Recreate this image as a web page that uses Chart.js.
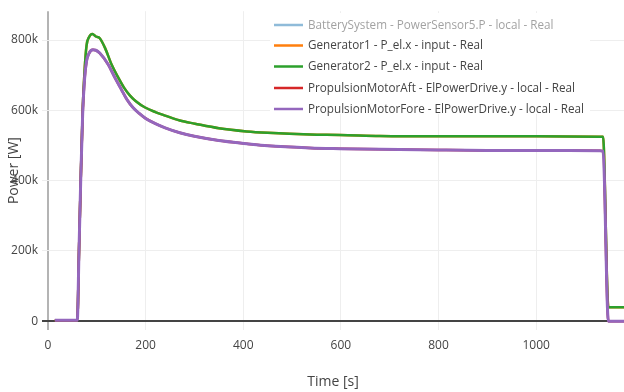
<!DOCTYPE html>
<html>
<head>
<meta charset="utf-8">
<script src="https://cdn.jsdelivr.net/npm/chart.js@4/dist/chart.umd.min.js"></script>
<style>
html,body{margin:0;padding:0;background:#fff;}
#wrap{width:624px;height:392px;}
</style>
</head>
<body>
<div id="wrap"><canvas id="c" width="624" height="392"></canvas></div>
<script>
// ---- data (time in s, power in W) ----
const genTime = [14, 60, 63.5, 67, 71, 75, 79, 84, 91, 98, 106, 117, 130, 144, 156, 168, 180, 199, 220, 240, 270, 301, 350, 407, 450, 537, 598, 680, 800, 900, 1000, 1131, 1137, 1148, 1180];
const genPower = [3000, 3000, 200000, 400000, 600000, 715000, 785000, 808000, 817000, 810000, 805000, 777000, 731000, 693000, 664000, 642000, 626000, 608000, 595000, 585000, 571000, 562000, 549000, 540000, 536000, 531000, 530000, 527000, 526000, 526000, 526000, 525000, 525000, 40000, 40000];
const motorTime = [14, 60, 63.5, 67, 71, 75, 79, 84, 92, 98, 106, 123, 137, 150, 162, 174, 187, 200, 220, 240, 270, 300, 350, 407, 450, 537, 598, 680, 800, 900, 1000, 1131, 1137, 1148, 1180];
const motorPower = [3000, 3000, 200000, 400000, 590000, 690000, 740000, 762000, 772000, 771000, 763000, 731000, 693000, 660000, 630000, 608000, 591000, 577000, 562000, 550000, 536000, 526000, 514000, 505000, 499000, 493000, 491000, 489000, 487000, 486000, 486000, 485000, 484000, 0, 0];
const batteryTime = [];
const batteryPower = [];
const seriesLabels = [
  'BatterySystem - PowerSensor5.P - local - Real',
  'Generator1 - P_el.x - input - Real',
  'Generator2 - P_el.x - input - Real',
  'PropulsionMotorAft - ElPowerDrive.y - local - Real',
  'PropulsionMotorFore - ElPowerDrive.y - local - Real'
];
const seriesColors = ['#1f77b4', '#ff7f0e', '#2ca02c', '#d62728', '#9467bd'];
const legendOnly = [true, false, false, false, false];
const xTicks = [0, 200, 400, 600, 800, 1000];
const yTicks = [0, 200000, 400000, 600000, 800000];

function pts(t, v){ return t.map((x,i)=>({x:x, y:v[i]})); }
const seriesData = [pts(batteryTime,batteryPower), pts(genTime,genPower), pts(genTime,genPower), pts(motorTime,motorPower), pts(motorTime,motorPower)];

const FONT = '"Open Sans", "DejaVu Sans", Arial, sans-serif';

const legendPlugin = {
  id: 'plotlyLegend',
  afterDatasetsDraw(chart){
    const ctx = chart.ctx;
    ctx.save();
    ctx.fillStyle = '#ffffff';
    ctx.fillRect(270, 13, 320, 101);
    const rows = [25, 45.5, 66.5, 88, 109];
    ctx.font = '11.7px ' + FONT;
    ctx.textBaseline = 'middle';
    ctx.textAlign = 'left';
    for (let i = 0; i < seriesLabels.length; i++) {
      const y = rows[i];
      ctx.globalAlpha = legendOnly[i] ? 0.5 : 1;
      ctx.strokeStyle = seriesColors[i];
      ctx.lineWidth = 2.5;
      ctx.beginPath();
      ctx.moveTo(274, y);
      ctx.lineTo(303, y);
      ctx.stroke();
      ctx.fillStyle = '#444';
      ctx.fillText(seriesLabels[i], 308, y + 0.5);
    }
    ctx.restore();
  }
};

new Chart(document.getElementById('c'), {
  type: 'line',
  data: {
    datasets: seriesLabels.map((lab, i) => ({
      label: lab,
      data: seriesData[i],
      order: 4 - i,
      borderColor: seriesColors[i],
      backgroundColor: seriesColors[i],
      borderWidth: (i === 4 ? 3 : 2.5),
      pointRadius: 0,
      fill: false,
      cubicInterpolationMode: 'monotone'
    }))
  },
  options: {
    responsive: false,
    animation: false,
    layout: { padding: { top: 8, left: 0, right: 0, bottom: 0 } },
    plugins: { legend: { display: false }, tooltip: { enabled: false } },
    scales: {
      x: {
        type: 'linear',
        min: -12.3,
        max: 1180,
        afterBuildTicks(scale){ scale.ticks = xTicks.map(v => ({value: v})); },
        afterFit(scale){ scale.height = 62; },
        border: { display: false },
        grid: {
          drawTicks: false,
          color: (c) => c.tick && c.tick.value === 0 ? '#b4b4b4' : '#eeeeee',
          lineWidth: (c) => c.tick && c.tick.value === 0 ? 2 : 1
        },
        ticks: {
          padding: 8,
          color: '#444',
          font: { family: FONT, size: 12 },
          maxRotation: 0,
          callback: (v) => String(v)
        },
        title: {
          display: true,
          text: 'Time [s]',
          color: '#444',
          font: { family: FONT, size: 14 },
          padding: { top: 0, bottom: 2 }
        }
      },
      y: {
        type: 'linear',
        min: -25000,
        max: 882000,
        afterBuildTicks(scale){ scale.ticks = yTicks.map(v => ({value: v})); },
        afterFit(scale){ scale.width = 42; },
        border: { display: false },
        grid: {
          drawTicks: false,
          color: (c) => c.tick && c.tick.value === 0 ? '#444444' : '#eeeeee',
          lineWidth: (c) => c.tick && c.tick.value === 0 ? 2 : 1
        },
        ticks: {
          padding: 4,
          color: '#444',
          font: { family: FONT, size: 12 },
          callback: (v) => v === 0 ? '0' : (v / 1000) + 'k'
        },
        title: {
          display: true,
          text: 'Power [W]',
          color: '#444',
          font: { family: FONT, size: 14 },
          padding: { top: 6, bottom: 0 }
        }
      }
    }
  },
  plugins: [legendPlugin]
});
</script>
</body>
</html>
